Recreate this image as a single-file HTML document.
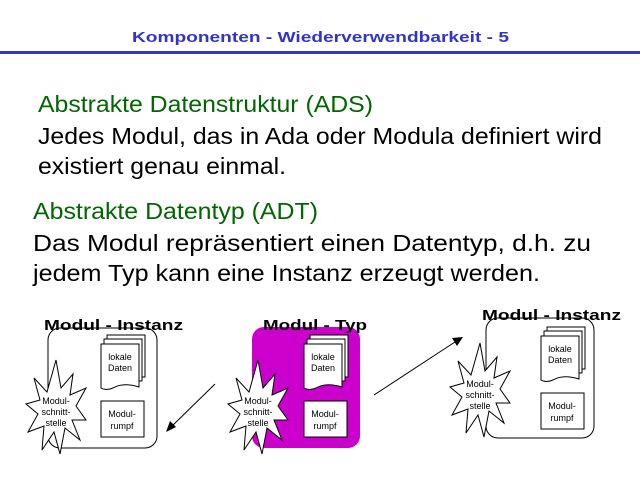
<!DOCTYPE html>
<html><head><meta charset="utf-8"><style>html,body{margin:0;padding:0;background:#fff;}svg{display:block}</style></head>
<body>
<svg width="640" height="480" viewBox="0 0 640 480" xmlns="http://www.w3.org/2000/svg" font-family="Liberation Sans, sans-serif">
<text x="132" y="42" font-size="15" font-weight="bold" fill="#3333cc" textLength="377" lengthAdjust="spacingAndGlyphs">Komponenten - Wiederverwendbarkeit - 5</text>
<rect x="0" y="51" width="640" height="3" fill="#3333cc"/>
<g font-size="23">
<text x="38" y="112" fill="#006600" textLength="335" lengthAdjust="spacingAndGlyphs">Abstrakte Datenstruktur (ADS)</text>
<text x="38" y="144" fill="#000" textLength="564" lengthAdjust="spacingAndGlyphs">Jedes Modul, das in Ada oder Modula definiert wird</text>
<text x="38" y="174" fill="#000" textLength="248" lengthAdjust="spacingAndGlyphs">existiert genau einmal.</text>
<text x="33" y="219" fill="#006600" textLength="285" lengthAdjust="spacingAndGlyphs">Abstrakte Datentyp (ADT)</text>
<text x="33" y="251" fill="#000" textLength="558" lengthAdjust="spacingAndGlyphs">Das Modul repräsentiert einen Datentyp, d.h. zu</text>
<text x="33" y="281" fill="#000" textLength="507" lengthAdjust="spacingAndGlyphs">jedem Typ kann eine Instanz erzeugt werden.</text>
</g>
<defs>
<g id="mod">
<rect x="59" y="0" width="38" height="42" fill="#fff" stroke="#000"/>
<rect x="56" y="4" width="38" height="42" fill="#fff" stroke="#000"/>
<path d="M53 9 L91 9 L91 52 Q75 47 65 53 Q58 56 53 53 Z" fill="#fff" stroke="#000"/>
<text x="72" y="25" font-size="9" text-anchor="middle">lokale</text>
<text x="72" y="36" font-size="9" text-anchor="middle">Daten</text>
<rect x="53" y="66" width="43" height="36" fill="#fff" stroke="#000"/>
<text x="74" y="82" font-size="9" text-anchor="middle">Modul-</text>
<text x="74" y="94" font-size="9" text-anchor="middle">rumpf</text>
</g>
<g id="star">
<polygon points="0,-50 5,-22 17,-36 14,-15 30,-22 20,-4 30,10 16,10 24,30 9,18 4,44 -2,22 -14,40 -12,16 -28,22 -18,4 -30,-6 -16,-10 -22,-32 -9,-18" fill="#fff" stroke="#000"/>
<text x="0" y="-6" font-size="9" text-anchor="middle">Modul-</text>
<text x="0" y="5" font-size="9" text-anchor="middle">schnitt-</text>
<text x="0" y="16" font-size="9" text-anchor="middle">stelle</text>
</g>
</defs>
<!-- left -->
<rect x="48" y="328" width="109" height="120" rx="12" fill="#fff" stroke="#000"/>
<use href="#mod" x="48" y="335"/>
<use href="#star" x="56" y="410"/>
<text x="44" y="330" font-size="15" font-weight="bold" textLength="139" lengthAdjust="spacingAndGlyphs">Modul - Instanz</text>
<!-- middle -->
<rect x="252" y="327" width="108" height="121" rx="12" fill="#cc00cc"/>
<use href="#mod" x="251" y="335"/>
<use href="#star" x="258" y="410"/>
<text x="263" y="330" font-size="15" font-weight="bold" textLength="104" lengthAdjust="spacingAndGlyphs">Modul - Typ</text>
<!-- right -->
<rect x="486" y="318" width="108" height="120" rx="12" fill="#fff" stroke="#000"/>
<use href="#mod" x="488" y="327"/>
<use href="#star" x="480" y="393"/>
<text x="482" y="320" font-size="15" font-weight="bold" textLength="139" lengthAdjust="spacingAndGlyphs">Modul - Instanz</text>
<!-- arrows -->
<line x1="215" y1="384" x2="170" y2="428" stroke="#000"/>
<polygon points="166,432 170,421 176,427" fill="#000"/>
<line x1="374" y1="395" x2="458" y2="340" stroke="#000"/>
<polygon points="463,337 452,338 457,346" fill="#000"/>
</svg>
</body></html>
